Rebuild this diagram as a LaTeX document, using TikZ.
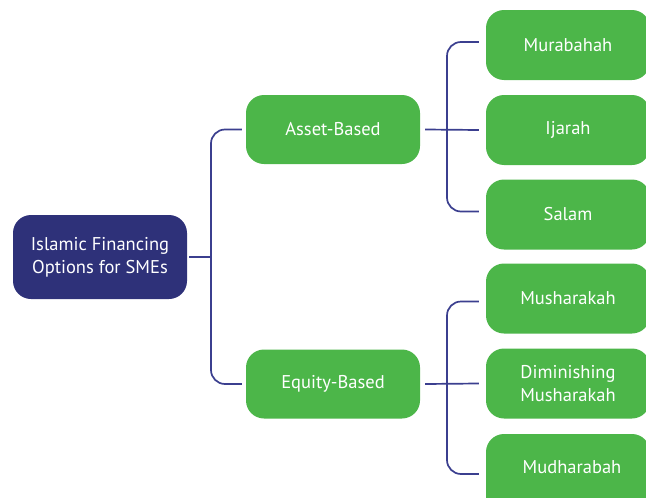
\documentclass[tikz,border=0pt]{standalone}
\usepackage{fontspec}
\setmainfont{PT Sans}
\definecolor{navy}{HTML}{2E3179}
\definecolor{leafgreen}{HTML}{4CB649}
\definecolor{wire}{HTML}{3B3F8F}
\begin{document}
\begin{tikzpicture}[x=1pt,y=-1pt,
  box/.style={rounded corners=18pt, text=white, align=center, inner sep=0pt,
    font=\fontsize{18.5}{23}\selectfont},
  rootbox/.style={box, fill=navy, minimum width=174pt, minimum height=84pt},
  midbox/.style={box, fill=leafgreen, minimum width=174pt, minimum height=69pt},
  leafbox/.style={box, fill=leafgreen, minimum width=164pt, minimum height=70pt},
  conn/.style={draw=wire, line width=1.7pt, rounded corners=14pt}]
\useasboundingbox (0,0) rectangle (646,498);
\clip (0,0) rectangle (646,498);
\node[rootbox] (root) at (100,257) {Islamic Financing\\Options for SMEs};
\node[midbox] (asset) at (333,129.5) {Asset-Based};
\node[midbox] (equity) at (333,384) {Equity-Based};
\node[leafbox] (mura) at (568,45) {Murabahah};
\node[leafbox] (ijar) at (568,130) {Ijarah};
\node[leafbox] (sala) at (568,214.5) {Salam};
\node[leafbox] (mush) at (568,298.5) {Musharakah};
\node[leafbox] (dimi) at (568,383.5) {Diminishing\\Musharakah};
\node[leafbox, minimum height=80pt] (mudh) at (568,474) {};
\node[text=white, font=\fontsize{18.5}{23}\selectfont] (mudht) at (572,467) {Mudharabah};
\coordinate (j1) at (211,257);
\coordinate (j2) at (447,130);
\coordinate (j3) at (447,384);
\draw[conn] ([xshift=2pt]root.east) -- (j1);
\draw[conn] ([xshift=-4pt]asset.west) -| (j1) |- ([xshift=-4pt]equity.west);
\draw[conn] ([xshift=5pt]asset.east) -- ([xshift=-7pt]ijar.west);
\draw[conn] ([xshift=-7pt,yshift=3pt]mura.west) -| (j2) |- ([xshift=-7pt,yshift=3pt]sala.west);
\draw[conn] ([xshift=5pt]equity.east) -- ([xshift=-7pt]dimi.west);
\draw[conn] ([xshift=-7pt,yshift=-3pt]mush.west) -| (j3) |- ([xshift=-7pt]mudh.west);
\end{tikzpicture}
\end{document}
